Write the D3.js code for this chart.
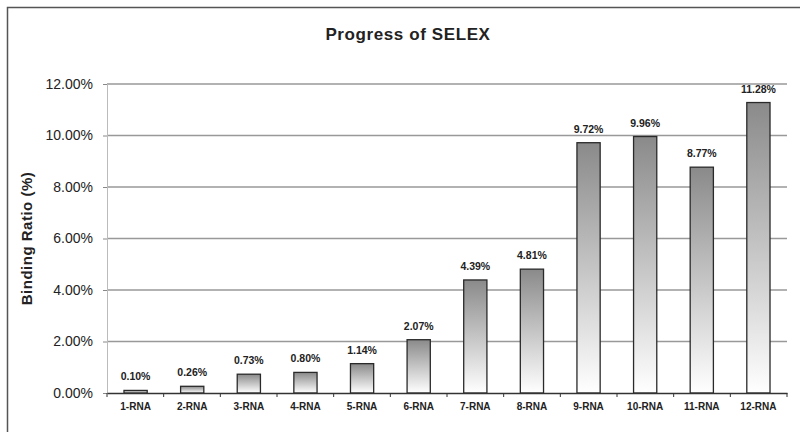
<!DOCTYPE html>
<html>
  <head>
    <meta charset="UTF-8" />
    <title>Progress of SELEX</title>
    <script src="https://d3js.org/d3.v7.min.js"></script>
    <style>
      body { margin: 0; background: #fff; }
      text { font-family: "Liberation Sans", Arial, sans-serif; fill: #222; }
    </style>
  </head>
  <body>
    <div id="chart"></div>
    <script>
      const categories = ["1-RNA", "2-RNA", "3-RNA", "4-RNA", "5-RNA", "6-RNA",
        "7-RNA", "8-RNA", "9-RNA", "10-RNA", "11-RNA", "12-RNA"];
      const ratios = [0.10, 0.26, 0.73, 0.80, 1.14, 2.07, 4.39, 4.81, 9.72, 9.96, 8.77, 11.28];
      const yTicks = [0, 2, 4, 6, 8, 10, 12];

      const width = 800, height = 432;
      const margin = { top: 84, right: 13, bottom: 39, left: 107 };

      const svg = d3.select("#chart").append("svg")
        .attr("width", width).attr("height", height);

      // bar gradient: grey at top fading to white
      const grad = svg.append("defs").append("linearGradient")
        .attr("id", "barGrad").attr("x1", 0).attr("y1", 0).attr("x2", 0).attr("y2", 1);
      grad.append("stop").attr("offset", "0%").attr("stop-color", "#8a8a8a");
      grad.append("stop").attr("offset", "100%").attr("stop-color", "#ffffff");

      // outer frame
      svg.append("rect")
        .attr("x", 7.5).attr("y", 7.5).attr("width", 800).attr("height", 440)
        .attr("fill", "none").attr("stroke", "#555").attr("stroke-width", 1.5);

      const x = d3.scaleBand().domain(categories)
        .range([margin.left, width - margin.right]).paddingInner(0.59).paddingOuter(0.3);
      const y = d3.scaleLinear().domain([0, 12])
        .range([height - margin.bottom, margin.top]);

      // gridlines
      svg.append("g").selectAll("line").data(yTicks.filter(d => d > 0)).join("line")
        .attr("x1", margin.left).attr("x2", width - margin.right)
        .attr("y1", d => y(d)).attr("y2", d => y(d))
        .attr("stroke", "#999").attr("stroke-width", 1.3);

      // y axis
      const yAxis = svg.append("g")
        .attr("transform", `translate(${margin.left},0)`)
        .call(d3.axisLeft(y).tickValues(yTicks).tickSize(4).tickPadding(10)
          .tickFormat(d => d.toFixed(2) + "%"));
      yAxis.select(".domain").attr("stroke", "#bbb");
      yAxis.selectAll(".tick line").attr("stroke", "#888");
      yAxis.selectAll("text").attr("font-size", 14).attr("fill", "#222");

      // bars
      svg.append("g").selectAll("rect").data(ratios).join("rect")
        .attr("x", (d, i) => x(categories[i]))
        .attr("y", d => y(d))
        .attr("width", x.bandwidth())
        .attr("height", d => y(0) - y(d))
        .attr("fill", "url(#barGrad)")
        .attr("stroke", "#2a2a2a").attr("stroke-width", 1.3);

      // value labels
      svg.append("g").selectAll("text").data(ratios).join("text")
        .attr("x", (d, i) => x(categories[i]) + x.bandwidth() / 2)
        .attr("y", d => y(d) - 10)
        .attr("text-anchor", "middle")
        .attr("font-size", 10.5).attr("font-weight", "bold")
        .text(d => d.toFixed(2) + "%");

      // x axis
      const xAxis = svg.append("g")
        .attr("transform", `translate(0,${y(0)})`)
        .call(d3.axisBottom(x).tickSize(0).tickPadding(10));
      xAxis.select(".domain").attr("stroke", "#333").attr("stroke-width", 1.3);
      xAxis.selectAll("text").attr("font-size", 10).attr("font-weight", "bold").attr("fill", "#333");

      // category boundary ticks
      svg.append("g").selectAll("line").data(d3.range(categories.length + 1)).join("line")
        .attr("x1", i => margin.left + i * (width - margin.right - margin.left) / categories.length)
        .attr("x2", i => margin.left + i * (width - margin.right - margin.left) / categories.length)
        .attr("y1", y(0)).attr("y2", y(0) + 4)
        .attr("stroke", "#333");

      // title
      svg.append("text")
        .attr("x", 408).attr("y", 40)
        .attr("text-anchor", "middle")
        .attr("font-size", 17).attr("font-weight", "bold")
        .attr("letter-spacing", 0.6)
        .text("Progress of SELEX");

      // y axis title
      svg.append("text")
        .attr("transform", `translate(32,${(margin.top + y(0)) / 2}) rotate(-90)`)
        .attr("text-anchor", "middle")
        .attr("font-size", 15).attr("font-weight", "bold")
        .attr("letter-spacing", 0.5)
        .text("Binding Ratio (%)");
    </script>
  </body>
</html>
